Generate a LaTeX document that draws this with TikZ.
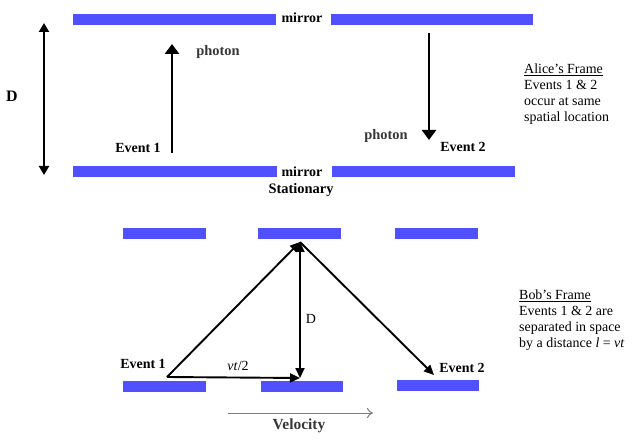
\documentclass[tikz,border=0pt]{standalone}
\usepackage{fontspec}
\setmainfont{Liberation Serif}
\usetikzlibrary{arrows.meta}
\definecolor{mblue}{RGB}{80,80,255}
\definecolor{velgray}{RGB}{125,125,125}
\definecolor{txtgray}{RGB}{55,55,55}
\begin{document}
\begin{tikzpicture}[x=1bp,y=-1bp,
  mirrorbar/.style={fill=mblue, draw=none, inner sep=0pt, minimum height=11bp},
  lbl/.style={font=\bfseries\fontsize{14}{16}\selectfont, inner sep=0pt},
  plain/.style={font=\fontsize{14}{16}\selectfont, inner sep=0pt},
  info/.style={font=\fontsize{14}{16}\selectfont, align=left, anchor=north west, inner sep=0pt},
  bigarrow/.style={line width=2.8bp, -{Triangle[length=10bp,width=14bp]}},
  smallarrow/.style={line width=1.9bp, -{Triangle[length=10bp,width=9bp]}}]
\useasboundingbox (0,0) rectangle (640,445);
% ---------- Alice's frame (stationary) ----------
\node[mirrorbar, minimum width=203bp] (mTL) at (174.5,19.5) {};
\node[mirrorbar, minimum width=202bp] (mTR) at (432,19.5) {};
\node[mirrorbar, minimum width=204bp] (mBL) at (175,171.5) {};
\node[mirrorbar, minimum width=183bp] (mBR) at (423.5,171.5) {};
\node[lbl] (mirrorT) at (302,18) {mirror};
\node[lbl] (mirrorB) at (302,172) {mirror};
\node[lbl, font=\bfseries\fontsize{14.5}{16}\selectfont] (stat) at (301,190) {Stationary};
\coordinate (dT) at (44,23);
\coordinate (dB) at (44,175);
\draw[line width=2.2bp, {Triangle[length=9bp,width=10bp]}-{Triangle[length=9bp,width=10bp]}] (dT) -- (dB);
\node[lbl, font=\bfseries\fontsize{16}{18}\selectfont] (Dbig) at (12,96) {D};
\coordinate (upS) at (172,153);
\coordinate (upE) at (172,44);
\draw[bigarrow] (upS) -- (upE);
\node[lbl, text=txtgray, font=\bfseries\fontsize{14.5}{16}\selectfont] (ph1) at (218,52) {photon};
\node[lbl] (ev1a) at (138,148) {Event 1};
\coordinate (dnS) at (429,33);
\coordinate (dnE) at (429,140);
\draw[bigarrow] (dnS) -- (dnE);
\node[lbl, text=txtgray, font=\bfseries\fontsize{14.5}{16}\selectfont] (ph2) at (386,136) {photon};
\node[lbl] (ev2a) at (463,147) {Event 2};
\node[info] (alice) at (524,63.5) {\underline{Alice’s Frame}\\Events 1 \& 2\\occur at same\\spatial location};
% ---------- Bob's frame (moving) ----------
\node[mirrorbar, minimum width=83bp] (bTL) at (164.5,233.5) {};
\node[mirrorbar, minimum width=83bp] (bTM) at (299.5,233.5) {};
\node[mirrorbar, minimum width=83bp] (bTR) at (436.5,233.5) {};
\node[mirrorbar, minimum width=83bp] (bBL) at (164.5,386) {};
\node[mirrorbar, minimum width=82bp] (bBM) at (302,386) {};
\node[mirrorbar, minimum width=82bp] (bBR) at (438,385) {};
\coordinate (e1) at (167,377);
\coordinate (apex) at (300,242);
\coordinate (foot) at (300,378);
\coordinate (e2) at (434,375);
\draw[smallarrow] (e1) -- (apex);
\draw[smallarrow] (e1) -- (foot);
\draw[smallarrow, line width=2.2bp, {Triangle[length=10bp,width=9bp]}-{Triangle[length=10bp,width=9bp]}] (foot) -- (apex);
\draw[smallarrow] (apex) -- (e2);
\node[plain] (Dsmall) at (311,319) {D};
\node[plain] (vt) at (238,366) {\textit{vt}/2};
\node[lbl] (ev1b) at (143,364) {Event 1};
\node[lbl] (ev2b) at (462,368) {Event 2};
\coordinate (vS) at (228,413);
\coordinate (vE) at (373,413);
\draw[velgray, line width=1bp, -{To[length=6bp,width=10bp]}] (vS) -- (vE);
\node[lbl, text=txtgray, font=\bfseries\fontsize{15.5}{17}\selectfont] (vel) at (299,426) {Velocity};
\node[info] (bob) at (519,289.5) {\underline{Bob’s Frame}\\Events 1 \& 2 are\\separated in space\\by a distance \textit{l} = \textit{vt}};
\end{tikzpicture}
\end{document}
